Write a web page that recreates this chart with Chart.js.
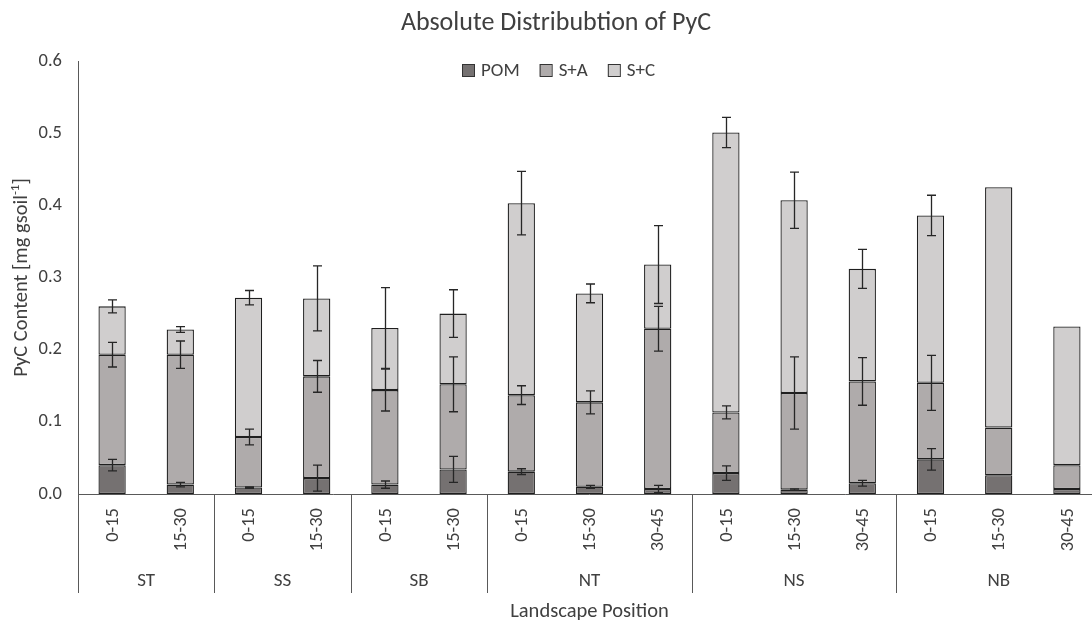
<!DOCTYPE html>
<html>
<head>
<meta charset="utf-8">
<title>Absolute Distribubtion of PyC</title>
<script src="https://cdn.jsdelivr.net/npm/chart.js@4.4.1/dist/chart.umd.min.js"></script>
<style>
	html, body { margin: 0; padding: 0; background: #fff; overflow: hidden; }
	#graficoPyC { display: block; }
</style>
</head>
<body>
<canvas id="graficoPyC" width="1102" height="624"></canvas>
<script>
// sampling depths (cm) and landscape positions
var depths = ['0-15', '15-30', '0-15', '15-30', '0-15', '15-30', '0-15', '15-30', '30-45', '0-15', '15-30', '30-45', '0-15', '15-30', '30-45'];
var positions = ['ST', 'SS', 'SB', 'NT', 'NS', 'NB'];
var positionSizes = [2, 2, 2, 3, 3, 3];

// PyC per fraction [mg gsoil-1]
var pom = [0.040, 0.013, 0.009, 0.022, 0.013, 0.034, 0.031, 0.010, 0.007, 0.029, 0.006, 0.015, 0.048, 0.026, 0.007];
var sa = [0.153, 0.180, 0.070, 0.141, 0.131, 0.118, 0.106, 0.117, 0.222, 0.084, 0.134, 0.141, 0.106, 0.066, 0.033];
var sc = [0.067, 0.035, 0.193, 0.108, 0.086, 0.098, 0.266, 0.151, 0.089, 0.388, 0.267, 0.156, 0.232, 0.333, 0.192];

// standard errors, null where there is no replicate
var pomErr = [0.008, 0.003, 0.001, 0.018, 0.005, 0.018, 0.004, 0.002, 0.005, 0.010, 0.001, 0.004, 0.015, null, null];
var saErr = [0.017, 0.019, 0.011, 0.022, 0.029, 0.038, 0.013, 0.016, 0.031, 0.009, 0.050, 0.033, 0.038, null, null];
var scErr = [0.009, 0.004, 0.010, 0.045, 0.056, 0.033, 0.044, 0.013, 0.054, 0.021, 0.039, 0.027, 0.028, null, null];

var yTicks = [0.0, 0.1, 0.2, 0.3, 0.4, 0.5, 0.6];

var FONTE = "'Carlito', 'Open Sans', sans-serif";
var COR_TEXTO = '#404040';
var COR_EIXO = '#595959';

var series = [
	{ label: 'POM', data: pom, erros: pomErr, cor: '#757171' },
	{ label: 'S+A', data: sa, erros: saErr, cor: '#afabab' },
	{ label: 'S+C', data: sc, erros: scErr, cor: '#d0cece' }
];

// error bars at the top of each stacked segment
var barrasErro = {
	id: 'barrasErro',
	afterDatasetsDraw: function(chart) {
		var ctx = chart.ctx;
		var x = chart.scales.x, y = chart.scales.y;
		ctx.save();
		ctx.strokeStyle = '#262626';
		ctx.lineWidth = 1.3;
		for (var i = 0; i < depths.length; i++) {
			var topo = 0;
			series.forEach(function(s) {
				topo += s.data[i];
				var e = s.erros[i];
				if (e === null) return;
				var px = Math.round(x.getPixelForValue(i)) + 0.5;
				var y1 = y.getPixelForValue(topo + e);
				var y2 = y.getPixelForValue(topo - e);
				ctx.beginPath();
				ctx.moveTo(px, y1); ctx.lineTo(px, y2);
				ctx.moveTo(px - 4.5, y1); ctx.lineTo(px + 4.5, y1);
				ctx.moveTo(px - 4.5, y2); ctx.lineTo(px + 4.5, y2);
				ctx.stroke();
			});
		}
		ctx.restore();
	}
};

// axes, multi-level category labels, legend and titles
var moldura = {
	id: 'moldura',
	afterDraw: function(chart) {
		var ctx = chart.ctx;
		var area = chart.chartArea;
		var x = chart.scales.x, y = chart.scales.y;
		var passo = (area.right - area.left) / depths.length;
		var meioX = (area.left + area.right) / 2;
		ctx.save();

		ctx.strokeStyle = COR_EIXO;
		ctx.lineWidth = 1;
		ctx.beginPath();
		ctx.moveTo(area.left + 0.5, area.top);
		ctx.lineTo(area.left + 0.5, area.bottom);
		ctx.moveTo(area.left, area.bottom + 0.5);
		ctx.lineTo(area.right, area.bottom + 0.5);
		ctx.stroke();

		// y tick labels
		ctx.fillStyle = COR_TEXTO;
		ctx.font = '18.5px ' + FONTE;
		ctx.textAlign = 'right';
		ctx.textBaseline = 'middle';
		yTicks.forEach(function(v) {
			ctx.fillText(v.toFixed(1), area.left - 16, y.getPixelForValue(v));
		});

		// group separators
		var inicio = 0;
		ctx.beginPath();
		ctx.moveTo(area.left + 0.5, area.bottom);
		ctx.lineTo(area.left + 0.5, area.bottom + 99);
		positionSizes.forEach(function(n) {
			inicio += n;
			var sx = Math.round(area.left + inicio * passo) + 0.5;
			ctx.moveTo(sx, area.bottom);
			ctx.lineTo(sx, area.bottom + 99);
		});
		ctx.stroke();

		// depth labels, rotated
		ctx.textAlign = 'right';
		ctx.textBaseline = 'middle';
		depths.forEach(function(d, i) {
			ctx.save();
			ctx.translate(x.getPixelForValue(i) + 1, area.bottom + 14);
			ctx.rotate(-Math.PI / 2);
			ctx.fillText(d, 0, 0);
			ctx.restore();
		});

		// landscape position labels
		ctx.font = '19px ' + FONTE;
		ctx.textAlign = 'center';
		inicio = 0;
		positions.forEach(function(p, k) {
			var cx = area.left + (inicio + positionSizes[k] / 2) * passo;
			ctx.fillText(p, cx, area.bottom + 87);
			inicio += positionSizes[k];
		});

		// axis titles
		ctx.font = '20.5px ' + FONTE;
		ctx.textBaseline = 'alphabetic';
		ctx.fillText('Landscape Position', meioX, 617);

		ctx.save();
		ctx.translate(27, (area.top + area.bottom) / 2);
		ctx.rotate(-Math.PI / 2);
		var t1 = 'PyC Content [mg gsoil';
		var w1 = ctx.measureText(t1).width;
		ctx.font = '13px ' + FONTE;
		var w2 = ctx.measureText('-1').width;
		ctx.font = '20.5px ' + FONTE;
		var w3 = ctx.measureText(']').width;
		var x0 = -(w1 + w2 + w3) / 2;
		ctx.textAlign = 'left';
		ctx.fillText(t1, x0, 0);
		ctx.font = '13px ' + FONTE;
		ctx.fillText('-1', x0 + w1, -8);
		ctx.font = '20.5px ' + FONTE;
		ctx.fillText(']', x0 + w1 + w2, 0);
		ctx.restore();

		// chart title
		ctx.font = '26px ' + FONTE;
		ctx.textAlign = 'center';
		ctx.fillText('Absolute Distribubtion of PyC', 556, 30);

		// legend
		var lx = 462;
		ctx.font = '19px ' + FONTE;
		ctx.textAlign = 'left';
		ctx.textBaseline = 'middle';
		series.forEach(function(s) {
			ctx.fillStyle = s.cor;
			ctx.fillRect(lx, 64, 12, 12);
			ctx.strokeStyle = '#333333';
			ctx.strokeRect(lx + 0.5, 64.5, 12, 12);
			ctx.fillStyle = COR_TEXTO;
			ctx.fillText(s.label, lx + 19, 71);
			lx += 19 + ctx.measureText(s.label).width + 20;
		});

		ctx.restore();
	}
};

var grafico = new Chart(document.getElementById('graficoPyC').getContext('2d'), {
	type: 'bar',
	data: {
		labels: depths,
		datasets: series.map(function(s) {
			return {
				label: s.label,
				data: s.data,
				backgroundColor: s.cor,
				borderColor: '#1f1f1f',
				borderWidth: 1.3,
				borderSkipped: false,
				categoryPercentage: 1,
				barPercentage: 0.4
			};
		})
	},
	options: {
		responsive: false,
		animation: false,
		devicePixelRatio: 1,
		layout: { padding: { left: 78, top: 61, right: 1, bottom: 130 } },
		plugins: {
			legend: { display: false },
			title: { display: false },
			tooltip: { enabled: false }
		},
		scales: {
			x: { stacked: true, display: false },
			y: { stacked: true, display: false, min: 0, max: 0.6 }
		}
	},
	plugins: [barrasErro, moldura]
});
</script>
</body>
</html>
